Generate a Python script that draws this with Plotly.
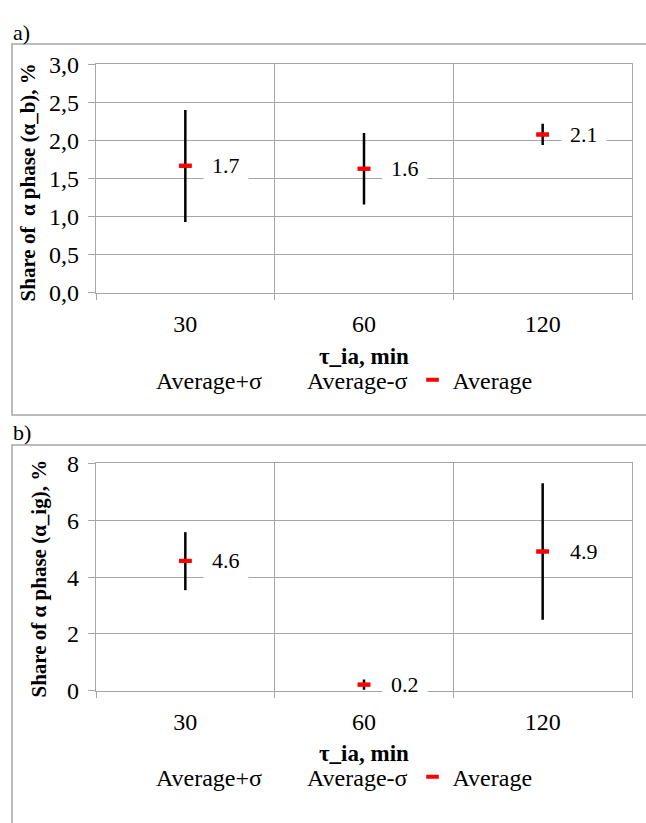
import plotly.graph_objects as go

W, H = 646, 823

# ---------------- data ----------------
categories = ["30", "60", "120"]

# panel a) share of alpha phase (alpha_b), %
a_avg = [1.67, 1.63, 2.08]
a_plus = [2.40, 2.10, 2.22]
a_minus = [0.93, 1.16, 1.94]
a_labels = ["1.7", "1.6", "2.1"]
a_tickvals = [0, 0.5, 1.0, 1.5, 2.0, 2.5, 3.0]
a_ticktext = ["0,0", "0,5", "1,0", "1,5", "2,0", "2,5", "3,0"]

# panel b) share of alpha phase (alpha_ig), %
b_avg = [4.57, 0.22, 4.90]
b_plus = [5.58, 0.40, 7.30]
b_minus = [3.54, 0.04, 2.50]
b_labels = ["4.6", "0.2", "4.9"]
b_tickvals = [0, 2, 4, 6, 8]
b_ticktext = ["0", "2", "4", "6", "8"]

series_names = ["Average+σ", "Average-σ", "Average"]
x_title = "τ_ia, min"
ya_title = "Share of  α phase (α_b), %"
yb_title = "Share of α phase (α_ig), %"

# ---------------- helpers ----------------
FONT = "Liberation Serif, Times New Roman, serif"
GRID = "#a6a6a6"
FS_TICK = 24
FS_LEG = 24
FS_XT = 23
FS_YT = 21
FS_LAB = 22


def px(x):
    return x / W


def py(y):
    return 1 - y / H


fig = go.Figure()

RED_MARK = dict(symbol="line-ew", size=9, color="#ff0000",
                line=dict(width=4, color="#ff0000"))


def add_panel(avg, plus, minus, xa, ya, legend):
    fig.add_trace(go.Scatter(
        x=categories, y=plus, name=series_names[0], mode="markers",
        marker=dict(size=1, color="rgba(0,0,0,0)"),
        xaxis=xa, yaxis=ya, legend=legend, hoverinfo="skip"))
    fig.add_trace(go.Scatter(
        x=categories, y=minus, name=series_names[1], mode="markers",
        marker=dict(size=1, color="rgba(0,0,0,0)"),
        xaxis=xa, yaxis=ya, legend=legend, hoverinfo="skip"))
    fig.add_trace(go.Scatter(
        x=categories, y=avg, name=series_names[2], mode="markers",
        marker=RED_MARK,
        error_y=dict(type="data", symmetric=False,
                     array=[p - a for p, a in zip(plus, avg)],
                     arrayminus=[a - m for a, m in zip(avg, minus)],
                     color="black", thickness=2.5, width=0),
        xaxis=xa, yaxis=ya, legend=legend))
    # re-draw average marker on top of the error bar
    fig.add_trace(go.Scatter(
        x=categories, y=avg, mode="markers", showlegend=False,
        marker=RED_MARK, xaxis=xa, yaxis=ya, hoverinfo="skip"))


add_panel(a_avg, a_plus, a_minus, "x", "y", "legend")
add_panel(b_avg, b_plus, b_minus, "x2", "y2", "legend2")

annotations = []
for vals, labs, xr, yr in [(a_avg, a_labels, "x", "y"),
                           (b_avg, b_labels, "x2", "y2")]:
    for i, (v, t) in enumerate(zip(vals, labs)):
        annotations.append(dict(
            x=i, y=v, xref=xr, yref=yr, text=t, showarrow=False,
            xanchor="left", yanchor="middle", xshift=18,
            bgcolor="white", borderpad=8,
            font=dict(family=FONT, size=FS_LAB, color="black")))

# panel letters
annotations.append(dict(x=px(11), y=py(20), xref="paper", yref="paper", text="a)",
                        showarrow=False, xanchor="left", yanchor="middle",
                        font=dict(family=FONT, size=22, color="black")))
annotations.append(dict(x=px(11), y=py(433), xref="paper", yref="paper", text="b)",
                        showarrow=False, xanchor="left", yanchor="middle",
                        font=dict(family=FONT, size=22, color="black")))
# axis titles
for yc in (355, 765):
    annotations.append(dict(x=px(364), y=py(yc), xref="paper", yref="paper",
                            text="<b>%s</b>" % x_title, showarrow=False,
                            xanchor="center", yanchor="middle",
                            font=dict(family=FONT, size=FS_XT, color="black")))
annotations.append(dict(x=px(28), y=py(175), xref="paper", yref="paper",
                        text="<b>%s</b>" % ya_title, showarrow=False, textangle=-90,
                        xanchor="center", yanchor="middle",
                        font=dict(family=FONT, size=FS_YT, color="black")))
annotations.append(dict(x=px(39), y=py(584), xref="paper", yref="paper",
                        text="<b>%s</b>" % yb_title, showarrow=False, textangle=-90,
                        xanchor="center", yanchor="middle",
                        font=dict(family=FONT, size=FS_YT, color="black")))

xax = dict(type="category", categoryorder="array", categoryarray=categories,
           range=[-0.5, 2.5], tickson="boundaries", ticks="outside", ticklen=6,
           tickcolor=GRID, showgrid=True, gridcolor=GRID, gridwidth=1.3,
           showline=True, linecolor=GRID, linewidth=1.3, mirror=True,
           tickfont=dict(family=FONT, size=FS_TICK, color="black"), tickangle=0,
           ticklabelstandoff=9, domain=[px(96), px(632)], fixedrange=True)

yax = dict(ticks="outside", ticklen=7, tickcolor=GRID,
           showgrid=True, gridcolor=GRID, gridwidth=1.3, zeroline=False,
           showline=True, linecolor=GRID, linewidth=1.3, mirror=True,
           tickfont=dict(family=FONT, size=FS_TICK, color="black"),
           ticklabelstandoff=4, fixedrange=True)

shapes = [
    dict(type="rect", xref="paper", yref="paper", x0=px(12), x1=1.05,
         y0=py(415), y1=py(32), line=dict(color=GRID, width=1.5)),
    dict(type="rect", xref="paper", yref="paper", x0=px(12), x1=1.05,
         y0=-0.05, y1=py(446), line=dict(color=GRID, width=1.5)),
]

legend_common = dict(orientation="h", xanchor="center", yanchor="middle",
                     font=dict(family=FONT, size=FS_LEG, color="black"),
                     bgcolor="rgba(0,0,0,0)", itemwidth=30,
                     itemclick=False, itemdoubleclick=False)

fig.update_layout(
    width=W, height=H, autosize=False,
    margin=dict(l=0, r=0, t=0, b=0),
    paper_bgcolor="white", plot_bgcolor="white",
    font=dict(family=FONT, size=FS_TICK, color="black"),
    xaxis=dict(xax, anchor="y"),
    yaxis=dict(yax, anchor="x", range=[0, 3], tickvals=a_tickvals, ticktext=a_ticktext,
               domain=[py(289), py(53)]),
    xaxis2=dict(xax, anchor="y2"),
    yaxis2=dict(yax, anchor="x2", range=[0, 8], tickvals=b_tickvals, ticktext=b_ticktext,
                domain=[py(700), py(465)]),
    legend=dict(legend_common, x=px(327), y=py(379)),
    legend2=dict(legend_common, x=px(327), y=py(789)),
    annotations=annotations,
    shapes=shapes,
    hovermode=False,
)

fig.write_html("out.html")
